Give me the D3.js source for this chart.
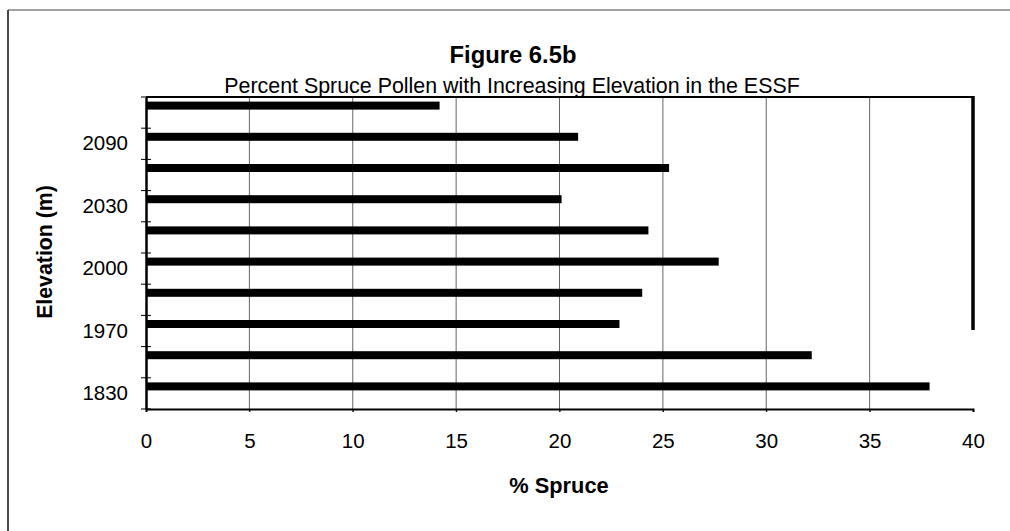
<!DOCTYPE html>
<html>
<head>
<meta charset="utf-8">
<script src="https://cdnjs.cloudflare.com/ajax/libs/d3/7.8.5/d3.min.js"></script>
<style>
  body { margin: 0; background: #fff; }
  svg { display: block; font-family: "Liberation Sans", Arial, sans-serif; }
</style>
</head>
<body>
<svg width="1010" height="531"></svg>
<script>
// elevations top to bottom, only every second one gets a label on the chart
var elevations = ["2120", "2090", "2060", "2030", "2015", "2000", "1985", "1970", "1900", "1830"];
var spruce = [14.2, 20.9, 25.3, 20.1, 24.3, 27.7, 24.0, 22.9, 32.2, 37.9];
var xTicks = [0, 5, 10, 15, 20, 25, 30, 35, 40];

const margin = {top: 97, right: 37, left: 146, bottom: 122};
const width = 1010 - margin.left - margin.right;
const height = 531 - margin.top - margin.bottom;

var svg = d3.select("svg");

// page frame
svg.append("line").attr("x1", 8).attr("x2", 1010).attr("y1", 10).attr("y2", 10)
  .attr("stroke", "#444").attr("stroke-width", 1);
svg.append("line").attr("x1", 8).attr("x2", 8).attr("y1", 10).attr("y2", 531)
  .attr("stroke", "#111").attr("stroke-width", 1.5);

// titles
svg.append("text").attr("x", 513).attr("y", 63)
  .attr("text-anchor", "middle").attr("font-size", 23.8).attr("font-weight", "bold")
  .text("Figure 6.5b");
svg.append("text").attr("x", 512).attr("y", 93)
  .attr("text-anchor", "middle").attr("font-size", 21.4)
  .text("Percent Spruce Pollen with Increasing Elevation in the ESSF");

var g = svg.append("g")
  .attr("transform", "translate(" + margin.left + "," + margin.top + ")");

var x = d3.scaleLinear().domain([0, 40]).range([0, width]);
var y = d3.scaleBand().domain(elevations).range([0, height]);

// plot area
g.append("rect").attr("width", width).attr("height", height).attr("fill", "#fff");

// vertical gridlines
g.selectAll(".grid").data(xTicks.slice(1, -1))
  .enter().append("line")
  .attr("class", "grid")
  .attr("x1", d => x(d)).attr("x2", d => x(d))
  .attr("y1", 0).attr("y2", height + 3)
  .attr("stroke", "#666").attr("stroke-width", 1);

// bars (sit in the upper part of each band)
g.selectAll(".bar").data(spruce)
  .enter().append("rect")
  .attr("class", "bar")
  .attr("x", x(0))
  .attr("y", (d, i) => y(elevations[i]) + y.bandwidth() / 2 - 11)
  .attr("width", d => x(d))
  .attr("height", 8)
  .attr("fill", "#000");

// x axis
var xAxis = d3.axisBottom(x).tickValues(xTicks).tickSize(3).tickPadding(21);
var xG = g.append("g").attr("transform", "translate(0," + height + ")").call(xAxis);
xG.select(".domain").attr("stroke-width", 2);
xG.selectAll("text").attr("font-size", 20.5).attr("fill", "#000")
  .attr("font-family", "Liberation Sans, Arial, sans-serif");

// y axis: cross ticks on band edges, labels on every second band
var yAxis = d3.axisLeft(y).tickSize(0).tickPadding(18)
  .tickFormat((d, i) => i % 2 == 1 ? d : "");
var yG = g.append("g").call(yAxis);
yG.select(".domain").attr("stroke-width", 2.5);
yG.selectAll("text").attr("font-size", 20.5).attr("fill", "#000")
  .attr("font-family", "Liberation Sans, Arial, sans-serif");
g.selectAll(".ytick").data(d3.range(elevations.length + 1))
  .enter().append("line")
  .attr("class", "ytick")
  .attr("x1", -5).attr("x2", 5)
  .attr("y1", d => d * y.step()).attr("y2", d => d * y.step())
  .attr("stroke", "#000").attr("stroke-width", 1);

// frame top + partial right edge
g.append("line").attr("x1", 0).attr("x2", width).attr("y1", 0).attr("y2", 0)
  .attr("stroke", "#000").attr("stroke-width", 2);
g.append("line").attr("x1", width).attr("x2", width).attr("y1", -1).attr("y2", 233)
  .attr("stroke", "#000").attr("stroke-width", 3.5);

// axis titles
svg.append("text").attr("x", 559).attr("y", 493)
  .attr("text-anchor", "middle").attr("font-size", 21.8).attr("font-weight", "bold")
  .text("% Spruce");
svg.append("text")
  .attr("transform", "translate(52,252) rotate(-90)")
  .attr("text-anchor", "middle").attr("font-size", 21.3).attr("font-weight", "bold")
  .text("Elevation (m)");
</script>
</body>
</html>
